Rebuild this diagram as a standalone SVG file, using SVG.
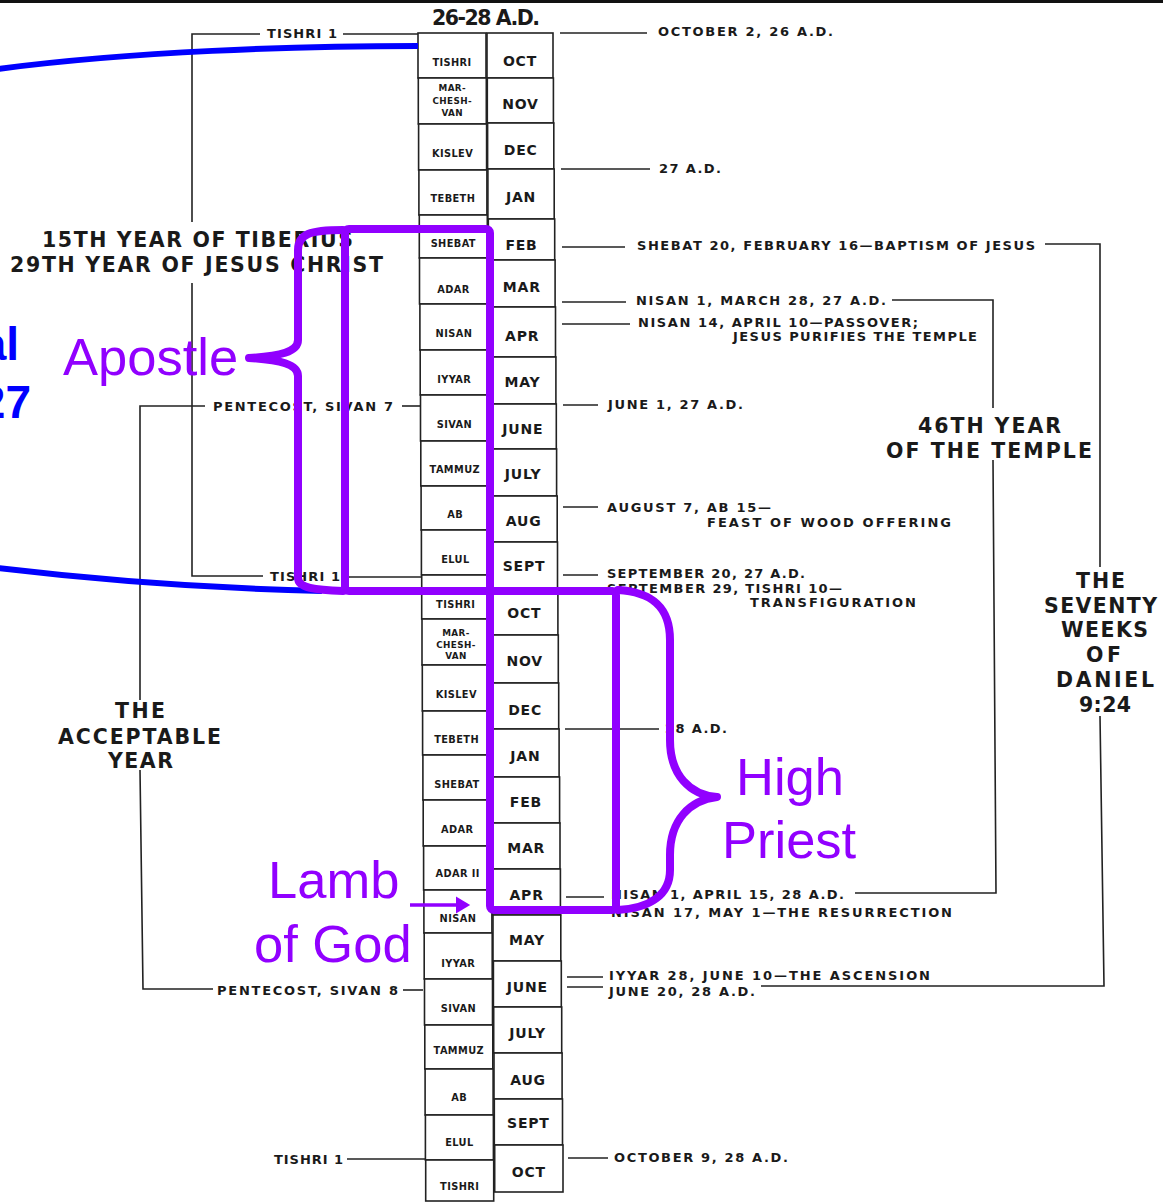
<svg xmlns="http://www.w3.org/2000/svg" width="1163" height="1203" viewBox="0 0 1163 1203">
<style>
.bg{fill:#ffffff}
.cell{fill:#ffffff;stroke:#222;stroke-width:1.6}
.heb{font-family:"DejaVu Sans","Open Sans",sans-serif;font-weight:700;font-size:9.8px;letter-spacing:0.4px;fill:#1a1a1a;text-anchor:middle}
.heb3{font-size:8.8px}
.greg{font-family:"DejaVu Sans","Open Sans",sans-serif;font-weight:700;font-size:14px;letter-spacing:0.8px;fill:#1a1a1a;text-anchor:middle}
.sm{font-family:"DejaVu Sans","Open Sans",sans-serif;font-weight:700;font-size:13px;fill:#1a1a1a}
.big{font-family:"DejaVu Sans","Open Sans",sans-serif;font-weight:700;font-size:20.5px;fill:#1a1a1a}
.ln{fill:none;stroke:#222;stroke-width:1.6}
.blue{fill:none;stroke:#0000ff;stroke-width:6}
.bluet{font-family:"Liberation Sans",Arial,sans-serif;font-weight:700;font-size:46px;fill:#0000ff;text-anchor:end}
.pur{fill:none;stroke:#9100ff;stroke-width:8;stroke-linejoin:round;stroke-linecap:round}
.purt{font-family:"Liberation Sans",Arial,sans-serif;font-size:52.5px;fill:#9100ff}
</style>
<defs>
<marker id="arr" markerWidth="5" markerHeight="5" refX="1" refY="2.5" orient="auto" markerUnits="strokeWidth">
<path d="M0,0 L4.2,2.5 L0,5 Z" fill="#9100ff"/>
</marker>
</defs>
<rect class="bg" x="0" y="0" width="1163" height="1203"/>
<rect x="0" y="0" width="1163" height="3" fill="#111"/>

<g id="title"><text class="big" x="432" y="25" font-size="17.5" textLength="108">26-28 A.D.</text></g>

<g id="hebrew-column">
<g id="h1"><rect class="cell" x="418" y="33" width="68" height="45"/><text class="heb" x="452" y="66">TISHRI</text></g>
<g id="h2"><rect class="cell" x="418.3" y="78" width="68" height="46"/><text class="heb heb3" x="452.3" y="91">MAR-</text><text class="heb heb3" x="452.3" y="104">CHESH-</text><text class="heb heb3" x="452.3" y="116">VAN</text></g>
<g id="h3"><rect class="cell" x="418.6" y="124" width="68" height="46"/><text class="heb" x="452.6" y="157">KISLEV</text></g>
<g id="h4"><rect class="cell" x="418.9" y="170" width="68" height="45"/><text class="heb" x="452.9" y="202">TEBETH</text></g>
<g id="h5"><rect class="cell" x="419.3" y="215" width="68" height="43"/><text class="heb" x="453.3" y="247">SHEBAT</text></g>
<g id="h6"><rect class="cell" x="419.5" y="258" width="68" height="46"/><text class="heb" x="453.5" y="293">ADAR</text></g>
<g id="h7"><rect class="cell" x="419.9" y="304" width="68" height="46"/><text class="heb" x="453.9" y="337">NISAN</text></g>
<g id="h8"><rect class="cell" x="420.2" y="350" width="68" height="45"/><text class="heb" x="454.2" y="383">IYYAR</text></g>
<g id="h9"><rect class="cell" x="420.5" y="395" width="68" height="46"/><text class="heb" x="454.5" y="428">SIVAN</text></g>
<g id="h10"><rect class="cell" x="420.8" y="441" width="68" height="45"/><text class="heb" x="454.8" y="473">TAMMUZ</text></g>
<g id="h11"><rect class="cell" x="421.1" y="486" width="68" height="44"/><text class="heb" x="455.1" y="518">AB</text></g>
<g id="h12"><rect class="cell" x="421.4" y="530" width="68" height="45"/><text class="heb" x="455.4" y="563">ELUL</text></g>
<g id="h13"><rect class="cell" x="421.7" y="575" width="68" height="44"/><text class="heb" x="455.7" y="608">TISHRI</text></g>
<g id="h14"><rect class="cell" x="422" y="619" width="68" height="46"/><text class="heb heb3" x="456" y="636">MAR-</text><text class="heb heb3" x="456" y="648">CHESH-</text><text class="heb heb3" x="456" y="659">VAN</text></g>
<g id="h15"><rect class="cell" x="422.3" y="665" width="68" height="46"/><text class="heb" x="456.3" y="698">KISLEV</text></g>
<g id="h16"><rect class="cell" x="422.6" y="711" width="68" height="44"/><text class="heb" x="456.6" y="743">TEBETH</text></g>
<g id="h17"><rect class="cell" x="422.9" y="755" width="68" height="45"/><text class="heb" x="456.9" y="788">SHEBAT</text></g>
<g id="h18"><rect class="cell" x="423.2" y="800" width="68" height="46"/><text class="heb" x="457.2" y="833">ADAR</text></g>
<g id="h19"><rect class="cell" x="423.6" y="846" width="68" height="44"/><text class="heb" x="457.6" y="877">ADAR II</text></g>
<g id="h20"><rect class="cell" x="423.9" y="890" width="68" height="43"/><text class="heb" x="457.9" y="922">NISAN</text></g>
<g id="h21"><rect class="cell" x="424.2" y="933" width="68" height="46"/><text class="heb" x="458.2" y="967">IYYAR</text></g>
<g id="h22"><rect class="cell" x="424.5" y="979" width="68" height="46"/><text class="heb" x="458.5" y="1012">SIVAN</text></g>
<g id="h23"><rect class="cell" x="424.8" y="1025" width="68" height="44"/><text class="heb" x="458.8" y="1054">TAMMUZ</text></g>
<g id="h24"><rect class="cell" x="425.1" y="1069" width="68" height="46"/><text class="heb" x="459.1" y="1101">AB</text></g>
<g id="h25"><rect class="cell" x="425.4" y="1115" width="68" height="45"/><text class="heb" x="459.4" y="1146">ELUL</text></g>
<g id="h26"><rect class="cell" x="425.7" y="1160" width="68" height="41"/><text class="heb" x="459.7" y="1190">TISHRI</text></g>
</g>

<g id="gregorian-column">
<g id="g1"><rect class="cell" x="487" y="33" width="66" height="45"/><text class="greg" x="520" y="66">OCT</text></g>
<g id="g2"><rect class="cell" x="487.3" y="78" width="66.1" height="45"/><text class="greg" x="520.4" y="109">NOV</text></g>
<g id="g3"><rect class="cell" x="487.6" y="123" width="66.2" height="46"/><text class="greg" x="520.7" y="155">DEC</text></g>
<g id="g4"><rect class="cell" x="487.9" y="169" width="66.3" height="50"/><text class="greg" x="521" y="202">JAN</text></g>
<g id="g5"><rect class="cell" x="488.3" y="219" width="66.4" height="41"/><text class="greg" x="521.5" y="250">FEB</text></g>
<g id="g6"><rect class="cell" x="488.6" y="260" width="66.5" height="47"/><text class="greg" x="521.8" y="292">MAR</text></g>
<g id="g7"><rect class="cell" x="488.9" y="307" width="66.6" height="50"/><text class="greg" x="522.2" y="341">APR</text></g>
<g id="g8"><rect class="cell" x="489.2" y="357" width="66.7" height="47"/><text class="greg" x="522.5" y="387">MAY</text></g>
<g id="g9"><rect class="cell" x="489.5" y="404" width="66.8" height="45"/><text class="greg" x="522.9" y="434">JUNE</text></g>
<g id="g10"><rect class="cell" x="489.8" y="449" width="66.8" height="47"/><text class="greg" x="523.2" y="479">JULY</text></g>
<g id="g11"><rect class="cell" x="490.2" y="496" width="67" height="46"/><text class="greg" x="523.7" y="526">AUG</text></g>
<g id="g12"><rect class="cell" x="490.5" y="542" width="67" height="48"/><text class="greg" x="524" y="571">SEPT</text></g>
<g id="g13"><rect class="cell" x="490.8" y="590" width="67.1" height="45"/><text class="greg" x="524.4" y="618">OCT</text></g>
<g id="g14"><rect class="cell" x="491.1" y="635" width="67.2" height="48"/><text class="greg" x="524.7" y="666">NOV</text></g>
<g id="g15"><rect class="cell" x="491.4" y="683" width="67.3" height="46"/><text class="greg" x="525.1" y="715">DEC</text></g>
<g id="g16"><rect class="cell" x="491.7" y="729" width="67.4" height="48"/><text class="greg" x="525.4" y="761">JAN</text></g>
<g id="g17"><rect class="cell" x="492.1" y="777" width="67.5" height="46"/><text class="greg" x="525.9" y="807">FEB</text></g>
<g id="g18"><rect class="cell" x="492.4" y="823" width="67.6" height="46"/><text class="greg" x="526.2" y="853">MAR</text></g>
<g id="g19"><rect class="cell" x="492.7" y="869" width="67.7" height="46"/><text class="greg" x="526.6" y="900">APR</text></g>
<g id="g20"><rect class="cell" x="493" y="915" width="67.8" height="46"/><text class="greg" x="526.9" y="945">MAY</text></g>
<g id="g21"><rect class="cell" x="493.4" y="961" width="67.9" height="46"/><text class="greg" x="527.4" y="992">JUNE</text></g>
<g id="g22"><rect class="cell" x="493.7" y="1007" width="68" height="46"/><text class="greg" x="527.7" y="1038">JULY</text></g>
<g id="g23"><rect class="cell" x="494" y="1053" width="68.1" height="46"/><text class="greg" x="528.1" y="1085">AUG</text></g>
<g id="g24"><rect class="cell" x="494.3" y="1099" width="68.2" height="46"/><text class="greg" x="528.4" y="1128">SEPT</text></g>
<g id="g25"><rect class="cell" x="494.7" y="1145" width="68.3" height="47"/><text class="greg" x="528.9" y="1177">OCT</text></g>
</g>

<g id="connectors">
<path class="ln" d="M260 34 H192 V222"/>
<path class="ln" d="M343 34 H418"/>
<path class="ln" d="M192 283 V576 H263"/>
<path class="ln" d="M343 577 H421"/>
<path class="ln" d="M205 406 H140 V700"/>
<path class="ln" d="M402 406 H420"/>
<path class="ln" d="M140 770 L143 989 H213"/>
<path class="ln" d="M403 990 H423"/>
<path class="ln" d="M347 1159 H426"/>
<path class="ln" d="M560 33 H647"/>
<path class="ln" d="M561 169 H650"/>
<path class="ln" d="M562 247 H625"/>
<path class="ln" d="M1045 244 H1100 V567"/>
<path class="ln" d="M1100 716 L1104 986 H761"/>
<path class="ln" d="M562 302 H626"/>
<path class="ln" d="M892 300 H993 V408"/>
<path class="ln" d="M993 460 L996 893 H855"/>
<path class="ln" d="M562 324 H630"/>
<path class="ln" d="M563 405 H598"/>
<path class="ln" d="M563 507 H598"/>
<path class="ln" d="M563 575 H598"/>
<path class="ln" d="M565 729 H659"/>
<path class="ln" d="M566 897 H604"/>
<path class="ln" d="M566 913 H604"/>
<path class="ln" d="M567 977 H603"/>
<path class="ln" d="M567 987 H603"/>
<path class="ln" d="M568 1158 H608"/>
</g>

<g id="labels-left">
<text class="sm" x="267" y="38" textLength="70">TISHRI 1</text>
<text class="sm" x="270" y="581" textLength="70">TISHRI 1</text>
<text class="sm" x="213" y="411" textLength="180">PENTECOST, SIVAN 7</text>
<text class="sm" x="217" y="995" textLength="181">PENTECOST, SIVAN 8</text>
<text class="sm" x="274" y="1164" textLength="69">TISHRI 1</text>
<text class="big" x="42" y="247" textLength="311">15TH YEAR OF TIBERIUS</text>
<text class="big" x="10" y="272" textLength="373">29TH YEAR OF JESUS CHRIST</text>
<text class="big" x="115" y="718" textLength="50">THE</text>
<text class="big" x="58" y="744" textLength="163">ACCEPTABLE</text>
<text class="big" x="108" y="768" textLength="65">YEAR</text>
</g>

<g id="labels-right">
<text class="sm" x="658" y="36" textLength="175">OCTOBER 2, 26 A.D.</text>
<text class="sm" x="659" y="173" textLength="62">27 A.D.</text>
<text class="sm" x="637" y="250" textLength="398">SHEBAT 20, FEBRUARY 16—BAPTISM OF JESUS</text>
<text class="sm" x="636" y="305" textLength="250">NISAN 1, MARCH 28, 27 A.D.</text>
<text class="sm" x="638" y="327" textLength="280">NISAN 14, APRIL 10—PASSOVER;</text>
<text class="sm" x="733" y="341" textLength="244">JESUS PURIFIES THE TEMPLE</text>
<text class="sm" x="608" y="409" textLength="135">JUNE 1, 27 A.D.</text>
<text class="sm" x="607" y="512" textLength="164">AUGUST 7, AB 15—</text>
<text class="sm" x="707" y="527" textLength="244">FEAST OF WOOD OFFERING</text>
<text class="sm" x="607" y="578" textLength="198">SEPTEMBER 20, 27 A.D.</text>
<text class="sm" x="607" y="593" textLength="235">SEPTEMBER 29, TISHRI 10—</text>
<text class="sm" x="750" y="607" textLength="166">TRANSFIGURATION</text>
<text class="sm" x="665" y="733" textLength="62">28 A.D.</text>
<text class="sm" x="611" y="899" textLength="233">NISAN 1, APRIL 15, 28 A.D.</text>
<text class="sm" x="611" y="917" textLength="341">NISAN 17, MAY 1—THE RESURRECTION</text>
<text class="sm" x="609" y="980" textLength="321">IYYAR 28, JUNE 10—THE ASCENSION</text>
<text class="sm" x="609" y="996" textLength="146">JUNE 20, 28 A.D.</text>
<text class="sm" x="614" y="1162" textLength="174">OCTOBER 9, 28 A.D.</text>
<text class="big" x="918" y="433" textLength="143">46TH YEAR</text>
<text class="big" x="886" y="458" textLength="206">OF THE TEMPLE</text>
<text class="big" x="1076" y="588" textLength="49">THE</text>
<text class="big" x="1044" y="613" textLength="113">SEVENTY</text>
<text class="big" x="1061" y="637" textLength="87">WEEKS</text>
<text class="big" x="1086" y="662" textLength="35">OF</text>
<text class="big" x="1056" y="687" textLength="98">DANIEL</text>
<text class="big" x="1079" y="712" textLength="52">9:24</text>
</g>

<g id="blue-annotation">
<path class="blue" d="M418 46 C300 46 130 51 -10 70"/>
<path class="blue" d="M-10 567 C80 578 200 588 322 591"/>
<text class="bluet" x="19" y="360">al</text>
<text class="bluet" x="31" y="418">27</text>
</g>

<g id="apostle">
<rect class="pur" x="345" y="229" width="145" height="362" rx="4"/>
<path class="pur" d="M343 230 C310 230 298 234 298 250 L298 340 C298 352 280 356 249 358 C280 360 298 364 298 376 L298 578 C298 588 315 590 343 591"/>
<text class="purt" x="63" y="375">Apostle</text>
</g>

<g id="high-priest">
<rect class="pur" x="490" y="591" width="126" height="319" rx="4"/>
<path class="pur" d="M618 590 C650 592 670 605 670 640 L670 740 C670 775 690 795 717 797 C690 800 670 820 670 855 L670 870 C670 895 650 908 618 910"/>
<text class="purt" x="736" y="795">High</text>
<text class="purt" x="722" y="858">Priest</text>
</g>

<g id="lamb-of-god">
<text class="purt" x="268" y="898">Lamb</text>
<text class="purt" x="254" y="962">of God</text>
<line x1="410" y1="905" x2="459" y2="905" stroke="#9100ff" stroke-width="3.5" marker-end="url(#arr)"/>
</g>
</svg>
